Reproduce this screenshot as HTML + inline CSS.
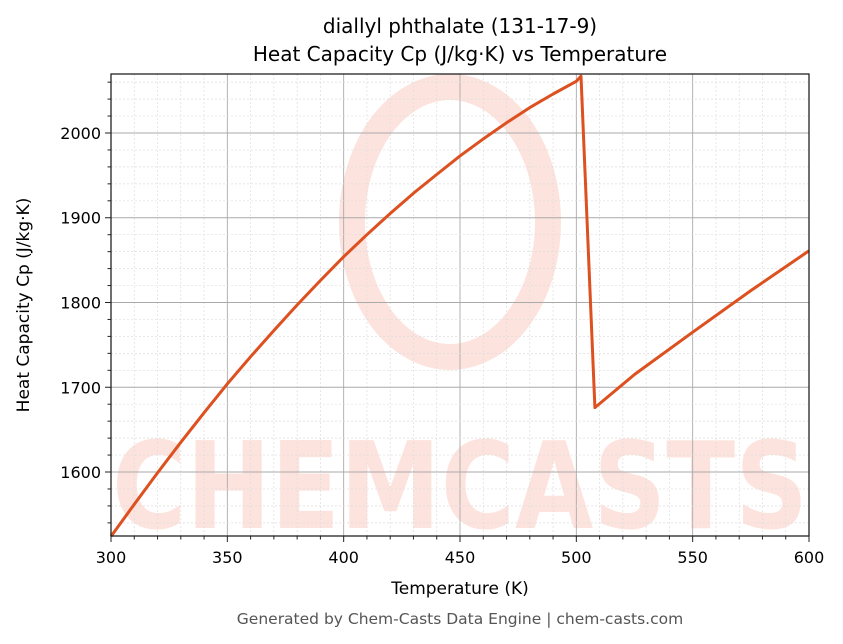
<!DOCTYPE html>
<html><head><meta charset="utf-8"><style>
html,body{margin:0;padding:0;background:#fff;width:843px;height:644px;overflow:hidden}
svg{font-family:"DejaVu Sans","Liberation Sans",sans-serif}
</style></head><body>
<svg id="chart" width="843" height="644" xmlns="http://www.w3.org/2000/svg">
<g>
<ellipse cx="450" cy="222" rx="98" ry="135" fill="none" stroke="#fde3dd" stroke-width="26"/>
<text x="112" y="528" font-size="120" font-weight="bold" fill="#fde3dd" textLength="696" lengthAdjust="spacingAndGlyphs">CHEMCASTS</text>
</g>
<g id="grid"></g>
<g id="series"></g>
<rect x="111" y="74" width="698" height="462" fill="none" stroke="#222" stroke-width="1.3"/>
<g id="ticks"></g>
<text x="460" y="33" text-anchor="middle" font-size="20">diallyl phthalate (131-17-9)</text>
<text x="460" y="61" text-anchor="middle" font-size="20">Heat Capacity Cp (J/kg·K) vs Temperature</text>
<text x="460" y="594" text-anchor="middle" font-size="17">Temperature (K)</text>
<text transform="translate(29,305) rotate(-90)" text-anchor="middle" font-size="17">Heat Capacity Cp (J/kg·K)</text>
<text x="460" y="624" text-anchor="middle" font-size="15.5" fill="#555">Generated by Chem-Casts Data Engine | chem-casts.com</text>
</svg>
<script>
const temps=[300,310,320,330,340,350,360,370,380,390,400,410,420,430,440,450,460,470,480,490,500,502,508,525,550,575,600];
const cpValues=[1524,1562,1599,1635,1670,1704,1736,1767,1797,1826,1854,1880,1905,1929,1951,1973,1993,2012,2030,2046,2061,2067,1676,1715,1765,1814,1861];
const xTicks=[300,350,400,450,500,550,600];
const yTicks=[1600,1700,1800,1900,2000];
const X0=111,X1=809,Y0=536,Y1=74,xmin=300,xmax=600,ymin=1524.5,ymax=2069.6;
const sx=v=>X0+(v-xmin)/(xmax-xmin)*(X1-X0);
const sy=v=>Y0-(v-ymin)/(ymax-ymin)*(Y0-Y1);
const NS="http://www.w3.org/2000/svg";
const grid=document.getElementById('grid'),ticks=document.getElementById('ticks'),ser=document.getElementById('series');
function mk(tag,attrs,parent){const e=document.createElementNS(NS,tag);for(const k in attrs)e.setAttribute(k,attrs[k]);parent.appendChild(e);return e;}
for(let v=300;v<=600;v+=10){const x=sx(v);const major=v%50===0;
 const l=mk('line',{x1:x,x2:x,y1:Y1,y2:Y0,stroke:major?'#aaa':'#ddd','stroke-width':major?0.9:0.7,'stroke-dasharray':major?'':'2,2'},grid);
 
 const t=mk('line',{x1:x,x2:x,y1:Y0,y2:Y0+(major?6:3.5),stroke:'#222','stroke-width':1},ticks);
 }
for(let v=1540;v<=2060;v+=20){const y=sy(v);const major=v%100===0;
 const l=mk('line',{x1:X0,x2:X1,y1:y,y2:y,stroke:major?'#aaa':'#ddd','stroke-width':major?0.9:0.7,'stroke-dasharray':major?'':'2,2'},grid);
 
 const t=mk('line',{x1:X0,x2:X0-(major?6:3.5),y1:y,y2:y,stroke:'#222','stroke-width':1},ticks);
 }
xTicks.forEach(v=>{const t=mk('text',{x:sx(v),y:Y0+27,'text-anchor':'middle','font-size':16},ticks);t.textContent=v;
 });
yTicks.forEach(v=>{const t=mk('text',{x:X0-10,y:sy(v)+6,'text-anchor':'end','font-size':16},ticks);t.textContent=v;
 });
const d=temps.map((t,i)=>(i?'L':'M')+sx(t).toFixed(1)+','+sy(cpValues[i]).toFixed(1)).join(' ');
const p=mk('path',{d:d,fill:'none',stroke:'#dd5020','stroke-width':3,'stroke-linejoin':'round'},ser);


</script>
</body></html>
